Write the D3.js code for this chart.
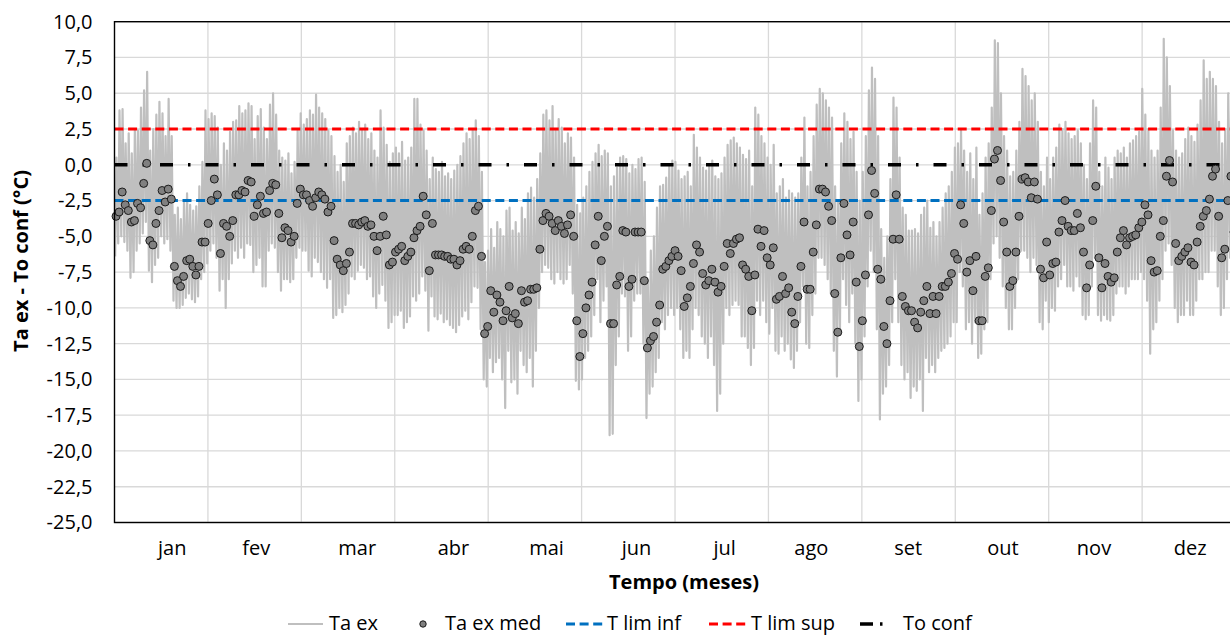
<!DOCTYPE html>
<html>
<head>
<meta charset="utf-8">
<script src="https://cdn.jsdelivr.net/npm/d3@7"></script>
<style>
  body { margin: 0; background: #fff; }
  svg text { font-family: "Open Sans", Lato, sans-serif; fill: #000; }
</style>
</head>
<body>
<svg id="chart" width="1230" height="636"></svg>
<script>
// month labels (category axis, 730 hourly values per month)
const months = ['jan', 'fev', 'mar', 'abr', 'mai', 'jun', 'jul', 'ago', 'set', 'out', 'nov', 'dez'];
// hour index at which each month label sits on the category axis
const monthLabelHours = [447, 1103, 1893, 2645, 3372, 4075, 4764, 5441, 6198, 6938, 7650, 8401];
const yTickValues = [-25, -22.5, -20, -17.5, -15, -12.5, -10, -7.5, -5, -2.5, 0, 2.5, 5, 7.5, 10];

// reference levels
const tLimInf = -2.5;
const tLimSup = 2.5;
const toConf = 0;

// Ta ex med: daily mean, one value per day (365)
const taExMed = [
  -3.6, -3.3, -1.9, -2.8, -3.2, -4.0, -3.9, -2.7, -3.0, -1.3,
  0.1, -5.3, -5.6, -4.1, -3.2, -1.8, -2.6, -1.7, -2.4, -7.1,
  -8.1, -8.5, -7.8, -6.7, -6.6, -7.1, -7.7, -7.1, -5.4, -5.4,
  -4.1, -2.5, -1.0, -2.1, -6.2, -4.1, -4.3, -5.0, -3.9, -2.1,
  -2.1, -1.8, -1.9, -1.1, -1.2, -3.6, -2.8, -2.2, -3.4, -3.3,
  -1.8, -1.3, -1.4, -3.4, -5.1, -4.4, -4.6, -5.4, -5.0, -2.7,
  -1.7, -2.1, -2.1, -2.5, -2.9, -2.3, -1.9, -2.1, -2.4, -3.3,
  -2.9, -5.3, -6.6, -7.0, -7.4, -6.9, -6.1, -4.1, -4.1, -4.2,
  -4.0, -3.9, -4.3, -4.2, -5.0, -6.0, -5.0, -3.6, -4.9, -7.0,
  -6.8, -6.1, -5.9, -5.7, -6.7, -6.4, -6.1, -5.1, -4.6, -4.3,
  -2.2, -3.5, -7.4, -4.1, -6.3, -6.3, -6.3, -6.4, -6.4, -6.6,
  -6.6, -7.0, -6.7, -5.9, -5.7, -5.9, -5.0, -3.2, -2.9, -6.4,
  -11.8, -11.3, -8.8, -10.3, -9.1, -9.6, -10.9, -10.2, -8.5, -10.7,
  -10.4, -11.1, -8.8, -9.6, -9.5, -8.7, -8.7, -8.6, -5.9, -3.9,
  -3.4, -3.6, -4.1, -4.6, -3.9, -4.3, -4.8, -4.2, -3.5, -5.0,
  -10.9, -13.4, -11.8, -10.0, -9.1, -8.2, -5.6, -3.6, -6.7, -5.0,
  -4.3, -11.1, -11.1, -8.4, -7.8, -4.6, -4.7, -8.5, -8.0, -4.7,
  -4.7, -4.7, -8.1, -12.8, -12.3, -12.0, -11.0, -9.8, -7.3, -7.1,
  -6.7, -6.4, -6.0, -6.4, -7.4, -9.9, -9.3, -8.5, -6.9, -5.6,
  -6.1, -7.6, -8.4, -8.1, -7.3, -8.2, -8.9, -8.5, -7.1, -5.5,
  -6.2, -5.5, -5.2, -5.1, -7.0, -7.3, -7.8, -10.2, -7.7, -4.5,
  -5.7, -4.6, -6.5, -7.0, -5.8, -9.4, -9.2, -7.8, -9.0, -8.6,
  -10.3, -11.1, -9.2, -7.1, -4.0, -8.7, -8.7, -6.1, -4.2, -1.7,
  -1.7, -1.9, -2.9, -3.9, -9.0, -11.7, -6.5, -2.7, -4.9, -6.3,
  -4.0, -8.2, -12.7, -10.9, -7.7, -3.5, -0.4, -2.0, -7.3, -8.0,
  -11.3, -12.5, -9.5, -5.2, -2.1, -5.2, -9.2, -9.9, -10.2, -10.2,
  -11.0, -11.4, -10.3, -9.5, -8.5, -10.4, -9.2, -10.4, -9.2, -8.5,
  -8.5, -8.2, -7.6, -6.2, -6.6, -2.8, -4.1, -7.5, -6.7, -8.8,
  -6.4, -10.9, -10.9, -7.8, -7.2, -3.2, 0.4, 1.0, -1.1, -4.0,
  -6.1, -8.5, -8.1, -6.1, -3.6, -1.0, -0.9, -1.2, -2.3, -1.2,
  -2.4, -7.3, -7.9, -5.4, -7.7, -6.9, -6.8, -4.7, -3.9, -2.5,
  -4.3, -4.6, -4.6, -3.4, -4.4, -6.1, -8.6, -7.0, -3.9, -1.5,
  -6.5, -8.6, -6.9, -7.8, -8.2, -7.9, -6.1, -5.1, -4.6, -5.6,
  -5.1, -5.0, -4.9, -4.4, -4.0, -2.8, -3.5, -6.7, -7.5, -7.4,
  -5.0, -3.9, -0.8, 0.3, -1.2, -5.5, -6.7, -6.4, -6.1, -5.8,
  -6.8, -7.0, -5.4, -4.3, -3.6, -3.2, -2.4, -0.8, -0.3, -3.6,
  -6.5, -5.9, -2.5, -0.8, -4.7
];

// Ta ex (hourly): daily maximum and minimum
const taExMax = [
  0.5, 3.8, 3.9, 1.5, 2.2, 0.8, 2.5, 2.4, 4.0, 5.2,
  6.5, 1.0, 2.5, 3.5, 4.4, 3.6, 2.0, 4.6, 2.0, -3.5,
  -3.0, -3.8, -2.6, -2.0, -2.8, -3.2, -2.9, -1.5, 0.2, 3.8,
  3.2, 3.6, 3.4, 2.6, 0.0, 1.5, 1.0, 2.3, 3.0, 3.1,
  4.1, 3.6, 3.8, 4.3, 4.1, 1.8, 3.4, 3.9, 2.6, 1.8,
  4.2, 5.0, 3.5, 1.0, 0.5, 0.3, 0.8, -0.6, 0.2, 2.4,
  3.6, 2.8, 3.2, 3.8, 3.5, 4.9, 4.0, 3.6, 3.2, 2.4,
  2.0, 0.6, -0.5, 0.0, -1.2, 1.5, 2.0, 2.6, 2.2, 3.0,
  2.5, 2.8, 1.8, 2.2, 1.0, 0.5, 3.8, 2.6, 1.4, 0.2,
  0.8, 1.2, 0.8, 1.6, 0.3, 0.5, 1.2, 4.6, 4.6, 2.8,
  2.4, 1.0, -1.0, 0.5, -0.3, -0.5, 0.2, -0.8, -0.6, -1.0,
  -0.4, 0.0, 0.6, 1.5, 2.2, 1.8, 2.5, 3.1, 2.0, -0.5,
  -6.8, -6.0, -4.5, -5.8, -4.0, -4.5, -5.0, -3.2, -3.0, -4.6,
  -4.0, -4.8, -3.0, -3.8, -2.0, -1.6, -2.3, -1.0, 0.8, 3.5,
  3.8, 3.1, 4.1, 2.5, 3.2, 2.6, 1.5, 2.2, 1.9, 0.5,
  -2.8, -3.4, -2.3, -1.5, -0.5, 0.2, 0.8, 1.4, 0.6, 1.0,
  0.8, -1.5, -0.8, -0.2, 0.5, 0.6, 0.4, -0.6, 0.0, -0.3,
  0.4, 0.5, -1.2, -8.0, -6.0, -5.0, -3.0, -1.5, -1.4, -0.9,
  0.0, 0.3, 0.2, -0.4, -1.0, -0.8, -0.5, -1.5, 2.1, 1.2,
  0.5, -0.2, -0.4, 0.0, 0.3, -0.8, -1.0, -0.6, 0.5, 1.4,
  1.7, 1.9, 1.5, 1.2, 0.7, 0.4, 1.0, -1.5, 4.0, 3.5,
  2.0, 1.5, 0.5, 0.0, 1.4, -2.0, -1.5, -1.0, -2.3, -1.8,
  -2.0, -2.3, -2.0, 0.5, 3.3, -1.5, -0.5, 2.0, 4.2, 5.3,
  5.0, 4.5, 4.0, 3.3, -1.5, -2.5, 1.5, 3.6, 3.0, 1.8,
  2.3, -0.5, -2.5, -0.5, 2.0, 5.2, 6.8, 6.0, 2.0, -4.5,
  -6.5, -5.0, -1.0, 4.7, 4.0, 0.5, -3.0, -3.5, -4.6, -4.6,
  -4.5, -4.8, -3.5, -3.0, -2.5, -4.4, -4.0, -5.0, -4.0, -3.0,
  -2.0, -1.5, -0.5, 1.2, 1.5, 2.4, 1.0, -0.5, 0.8, -1.0,
  1.2, -3.5, -2.0, 0.5, 1.5, 4.0, 8.7, 8.5, 5.0, 2.0,
  1.0, -0.8, -0.5, 1.0, 3.0, 6.7, 6.2, 5.5, 4.5, 5.0,
  3.0, -0.5, -1.5, 0.5, -1.0, 0.5, 1.2, 2.8, 2.5, 3.0,
  2.2, 1.8, 2.0, 2.4, 1.5, 0.0, -1.0, 1.5, 4.5, 4.0,
  -0.5, -1.5, 0.5, -0.2, -1.0, 0.5, 1.0, 0.8, 1.2, 0.5,
  1.5, 1.7, 2.0, 2.3, 5.3, 3.5, 2.5, 1.0, 0.5, 1.0,
  4.0, 8.8, 7.5, 5.5, 2.4, 1.0, 0.5, 0.8, 1.8, 2.6,
  2.0, 1.6, 2.8, 4.5, 7.3, 6.0, 6.5, 6.0, 5.5, 3.0,
  1.5, 2.5, 5.0, 6.0, 3.5
];
const taExMin = [
  -6.4, -5.5, -5.0, -5.4, -6.0, -7.9, -7.5, -6.0, -5.5, -4.8,
  -4.0, -7.4, -8.2, -7.0, -6.5, -5.0, -5.5, -5.2, -6.0, -9.5,
  -10.0, -10.0, -9.8, -9.3, -9.0, -9.4, -9.6, -9.2, -8.0, -7.5,
  -6.9, -6.0, -5.5, -6.5, -8.8, -8.0, -10.0, -8.0, -6.9, -6.0,
  -6.5, -5.8, -6.5, -5.5, -5.6, -7.5, -7.0, -6.5, -8.5, -8.5,
  -6.0, -5.5, -5.8, -7.5, -8.8, -8.0, -8.0, -8.2, -8.0, -6.5,
  -5.8, -6.0, -6.0, -7.4, -7.8, -6.5, -6.8, -7.5, -8.0, -8.6,
  -8.0, -10.7, -10.5, -10.0, -10.3, -9.8, -9.0, -7.8, -8.0, -7.4,
  -7.0, -7.2, -8.0, -7.8, -9.2, -10.0, -9.0, -8.4, -9.5, -11.4,
  -11.0, -10.5, -10.5, -10.2, -11.4, -11.0, -10.6, -9.2, -9.5, -9.0,
  -7.8, -8.8, -11.6, -9.2, -10.6, -10.8, -10.4, -11.0, -10.8, -11.2,
  -11.4, -11.7, -11.2, -10.6, -10.2, -10.8, -9.6, -8.5, -8.6, -11.5,
  -15.0, -15.5, -13.5, -14.5, -13.8, -13.5, -15.0, -17.0, -13.0, -15.2,
  -15.0, -16.0, -13.0, -14.0, -14.5, -13.5, -15.5, -13.0, -10.0, -7.5,
  -7.0, -7.2, -8.0, -8.3, -7.5, -8.0, -8.3, -8.0, -7.0, -9.0,
  -15.1, -15.7, -15.0, -13.5, -13.0, -12.0, -10.5, -8.0, -11.0, -9.5,
  -8.5, -18.9, -18.8, -14.0, -12.0, -9.0, -9.2, -13.0, -12.0, -9.5,
  -9.0, -9.0, -12.5, -17.7, -16.0, -15.5, -14.5, -13.5, -11.0, -11.5,
  -10.5, -10.0, -10.5, -10.0, -11.5, -13.5, -13.0, -13.5, -11.5, -10.0,
  -10.5, -12.0, -12.5, -13.5, -12.0, -14.0, -17.2, -16.0, -12.5, -10.0,
  -10.5, -9.8, -9.5, -9.8, -12.0, -12.0, -12.8, -14.0, -12.8, -9.5,
  -10.5, -9.5, -11.0, -11.8, -10.0, -13.0, -13.2, -12.0, -13.0, -12.5,
  -13.6, -14.2, -13.0, -11.0, -8.5, -12.5, -12.8, -10.5, -9.0, -6.5,
  -6.5, -7.0, -8.0, -9.0, -13.0, -14.8, -11.5, -8.0, -9.8, -11.0,
  -9.0, -12.5, -16.5, -15.0, -12.0, -8.5, -6.0, -7.5, -11.5, -17.8,
  -16.0, -15.5, -14.0, -11.0, -8.0, -11.0, -14.0, -15.0, -14.5, -16.3,
  -15.5, -15.8, -15.0, -17.2, -13.5, -14.5, -14.0, -14.5, -13.5, -13.0,
  -12.8, -12.5, -12.0, -11.0, -11.0, -7.5, -8.5, -11.5, -11.0, -12.5,
  -11.0, -13.5, -13.2, -11.5, -11.0, -8.0, -5.5, -5.0, -6.5, -8.5,
  -10.0, -11.5, -11.5, -10.0, -8.0, -6.0, -6.0, -6.5, -7.5, -6.5,
  -7.0, -11.0, -11.5, -9.5, -11.0, -10.0, -10.2, -8.5, -8.0, -7.0,
  -8.5, -8.5, -8.8, -7.8, -8.5, -10.5, -10.8, -10.5, -8.5, -6.5,
  -10.5, -10.9, -10.5, -10.8, -10.9, -10.5, -9.0, -8.5, -8.5, -9.0,
  -8.5, -8.0, -8.0, -8.0, -7.5, -8.0, -9.5, -13.2, -11.5, -11.0,
  -9.5, -8.0, -6.0, -5.5, -7.0, -10.0, -11.0, -10.5, -10.5, -9.5,
  -10.5, -10.5, -9.5, -8.0, -8.0, -7.5, -7.5, -6.0, -6.0, -8.5,
  -10.5, -10.0, -8.0, -6.5, -9.0
];

const HOURS = 8760, PER_MONTH = 730;
const margin = { left: 114.5, top: 21.7, bottom: 522.5 };
const plotRight = margin.left + 12 * 93.42;
const FONT = 20;

const svg = d3.select('#chart');
svg.append('rect').attr('width', 1230).attr('height', 636).attr('fill', '#fff');

const x = d3.scaleLinear().domain([0, HOURS]).range([margin.left, plotRight]);
const y = d3.scaleLinear().domain([-25, 10]).range([margin.bottom, margin.top]);

const locale = d3.formatLocale({ decimal: ',', thousands: '.', grouping: [3], currency: ['', ''], minus: '-' });
const fmt = locale.format('.1f');

// gridlines
const grid = svg.append('g').attr('stroke', '#d9d9d9').attr('stroke-width', 1.3);
grid.selectAll('line.h').data(yTickValues).enter().append('line')
    .attr('x1', margin.left).attr('x2', plotRight)
    .attr('y1', d => y(d)).attr('y2', d => y(d));
grid.selectAll('line.v').data(d3.range(1, months.length)).enter().append('line')
    .attr('x1', d => x(d * PER_MONTH)).attr('x2', d => x(d * PER_MONTH))
    .attr('y1', margin.top).attr('y2', margin.bottom);

// Ta ex: daily min -> max trace
const hourly = [];
taExMin.forEach((v, i) => {
    hourly.push({ h: i * 24 + 5, v: v });
    hourly.push({ h: i * 24 + 15, v: taExMax[i] });
});
svg.append('path').datum(hourly)
    .attr('fill', 'none').attr('stroke', '#bfbfbf').attr('stroke-width', 2.2)
    .attr('stroke-linejoin', 'round')
    .attr('d', d3.line().x(d => x(d.h)).y(d => y(d.v)));

// reference lines
const refLines = [
    { v: tLimInf, color: '#0070c0', dash: '9 4.6', w: 3 },
    { v: tLimSup, color: '#ff0000', dash: '9 4.6', w: 3 },
    { v: toConf, color: '#000', dash: '13 15 2.5 15', w: 3.5 }
];
svg.append('g').selectAll('line').data(refLines).enter().append('line')
    .attr('x1', margin.left).attr('x2', plotRight)
    .attr('y1', d => y(d.v)).attr('y2', d => y(d.v))
    .attr('stroke', d => d.color).attr('stroke-width', d => d.w)
    .attr('stroke-dasharray', d => d.dash);

// Ta ex med markers
svg.append('g').selectAll('circle').data(taExMed).enter().append('circle')
    .attr('cx', (d, i) => x(i * 24 + 12)).attr('cy', d => y(d))
    .attr('r', 4).attr('fill', '#808080').attr('stroke', '#1a1a1a').attr('stroke-width', 1);

// plot border
svg.append('rect').attr('x', margin.left).attr('y', margin.top)
    .attr('width', plotRight - margin.left).attr('height', margin.bottom - margin.top)
    .attr('fill', 'none').attr('stroke', '#000').attr('stroke-width', 1.4);

// axes
const yAxis = svg.append('g').attr('transform', `translate(${margin.left},0)`)
    .call(d3.axisLeft(y).tickValues(yTickValues).tickFormat(fmt).tickSize(0).tickPadding(22));
yAxis.select('.domain').remove();
yAxis.selectAll('text').attr('font-size', FONT).attr('fill', '#000');

const xAxis = svg.append('g').attr('transform', `translate(0,${margin.bottom})`)
    .call(d3.axisBottom(x).tickValues(monthLabelHours)
        .tickFormat((d, i) => months[i]).tickSize(0).tickPadding(18));
xAxis.select('.domain').remove();
xAxis.selectAll('text').attr('font-size', FONT).attr('fill', '#000');

svg.append('text').attr('x', 684).attr('y', 589).attr('text-anchor', 'middle')
    .attr('font-size', FONT).attr('font-weight', 'bold').text('Tempo (meses)');
svg.append('text').attr('transform', 'translate(28,261) rotate(-90)').attr('text-anchor', 'middle')
    .attr('font-size', FONT).attr('font-weight', 'bold').text('Ta ex - To conf (°C)');

// legend
const ly = 624;
const legend = svg.append('g');
legend.append('line').attr('x1', 288).attr('x2', 323).attr('y1', ly).attr('y2', ly)
    .attr('stroke', '#bfbfbf').attr('stroke-width', 2);
legend.append('circle').attr('cx', 423).attr('cy', ly).attr('r', 3.2)
    .attr('fill', '#808080').attr('stroke', '#1a1a1a').attr('stroke-width', 1);
legend.append('line').attr('x1', 566).attr('x2', 603).attr('y1', ly).attr('y2', ly)
    .attr('stroke', '#0070c0').attr('stroke-width', 3).attr('stroke-dasharray', '9 4.6');
legend.append('line').attr('x1', 709).attr('x2', 747).attr('y1', ly).attr('y2', ly)
    .attr('stroke', '#ff0000').attr('stroke-width', 3).attr('stroke-dasharray', '9 4.6');
legend.append('line').attr('x1', 860).attr('x2', 885).attr('y1', ly).attr('y2', ly)
    .attr('stroke', '#000').attr('stroke-width', 3.5).attr('stroke-dasharray', '13 7 2.5 20');
const legendItems = [
    { t: 'Ta ex', x: 329 }, { t: 'Ta ex med', x: 445 }, { t: 'T lim inf', x: 607 },
    { t: 'T lim sup', x: 751 }, { t: 'To conf', x: 903 }
];
legend.selectAll('text').data(legendItems).enter().append('text')
    .attr('x', d => d.x).attr('y', ly).attr('dy', '0.3em')
    .attr('font-size', FONT).text(d => d.t);
</script>
</body>
</html>
